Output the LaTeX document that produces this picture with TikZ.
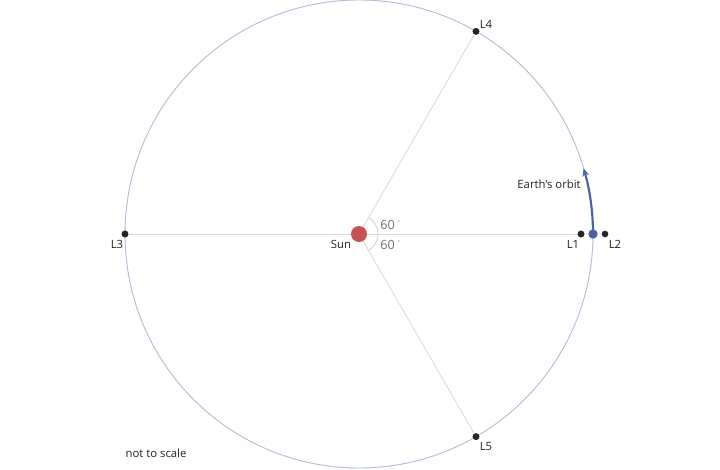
\documentclass[tikz,border=0pt]{standalone}
\usepackage{fontspec}
\setmainfont{Open Sans}
\usetikzlibrary{arrows.meta}
\definecolor{orbitc}{HTML}{B2BDD8}
\definecolor{spoke}{HTML}{D8D8D8}
\definecolor{sunc}{HTML}{C9514F}
\definecolor{earthc}{HTML}{4A62A8}
\definecolor{txt}{HTML}{222222}
\definecolor{anglec}{HTML}{707070}
\tikzset{
  lpt/.style={circle,fill=black!85,inner sep=0pt,minimum size=5pt},
  lbl/.style={font=\fontsize{8.5pt}{10pt}\selectfont,text=txt,inner sep=0pt},
  anglbl/.style={font=\fontsize{9.5pt}{11pt}\selectfont,text=anglec,inner sep=0pt},
  spokeline/.style={draw=spoke,line width=0.6pt},
}
\begin{document}
\begin{tikzpicture}[x=0.75pt,y=-0.75pt]
\useasboundingbox (0,0) rectangle (720,470);
\coordinate (S) at (359,234);
% orbit
\draw[orbitc,line width=0.7pt] (S) circle[radius=234];
% spokes
\node[lpt] (L1) at (581,234) {};
\node[lpt] (L2) at (605,234) {};
\node[lpt] (L3) at (125,234) {};
\node[lpt] (L4) at (476,31.4) {};
\node[lpt] (L5) at (476,436.6) {};
\draw[spokeline] (S) -- (L3.center);
\draw[spokeline] (S) -- (L1.center);
\draw[spokeline] (S) -- (L4.center);
\draw[spokeline] (S) -- (L5.center);
% angle arc
\draw[spoke,line width=0.8pt] (S) ++(-60:19) arc[start angle=-60,end angle=60,radius=19];
\node[lpt] at (L1) {};
\node[lpt] at (L3) {};
\node[lpt] at (L4) {};
\node[lpt] at (L5) {};
% sun
\node[circle,fill=sunc,inner sep=0pt,minimum size=12pt] (sun) at (S) {};
% earth orbit arrow
\draw[earthc,line width=1.6pt,-{Stealth[length=6pt,width=5pt]}] (593,234) arc[start angle=0,end angle=-16.3,radius=234];
\node[circle,fill=earthc,inner sep=0pt,minimum size=7pt] (earth) at (593,234) {};
% labels
\node[lbl] at (341,244) {Sun};
\node[lbl] at (573,244) {L1};
\node[lbl] at (615,244) {L2};
\node[lbl] at (117,244) {L3};
\node[lbl] at (486,24) {L4};
\node[lbl] at (486,447) {L5};
\node[lbl,anchor=east] at (581,184) {Earth’s orbit};
\node[anglbl,anchor=west] at (380,225) {60\,\raisebox{0.45ex}{\fontsize{5pt}{6pt}\selectfont˚}};
\node[anglbl,anchor=west] at (380,245) {60\,\raisebox{0.45ex}{\fontsize{5pt}{6pt}\selectfont˚}};
\node[lbl] at (156,453) {not to scale};
\end{tikzpicture}
\end{document}
